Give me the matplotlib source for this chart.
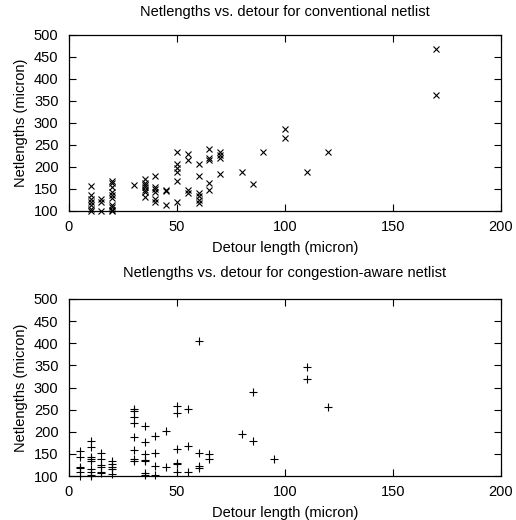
import matplotlib
matplotlib.use("Agg")
import matplotlib.pyplot as plt

plt.rcParams['font.family'] = ['Liberation Sans', 'DejaVu Sans']

# conventional netlist: detour length vs netlength
conv_x = [10, 10, 10, 10, 10, 10, 10,
          15, 15, 15,
          20, 20, 20, 20, 20, 20, 20, 20, 20, 20,
          30,
          35, 35, 35, 35, 35, 35, 35,
          40, 40, 40, 40, 40, 40,
          45, 45, 45,
          50, 50, 50, 50, 50, 50,
          55, 55, 55, 55,
          60, 60, 60, 60, 60, 60,
          65, 65, 65, 65, 65,
          70, 70, 70, 70,
          80, 85, 90, 100, 100, 110, 120, 170, 170]
conv_y = [157, 135, 127, 120, 112, 105, 100,
          126, 120, 100,
          167, 162, 155, 143, 136, 128, 113, 108, 102, 100,
          158,
          172, 164, 158, 153, 147, 142, 132,
          180, 155, 149, 143, 126, 120,
          148, 145, 113,
          233, 206, 198, 189, 168, 120,
          228, 215, 147, 141,
          206, 180, 141, 133, 124, 117,
          240, 221, 215, 162, 147,
          233, 226, 221, 183,
          187, 160, 233, 285, 266, 189, 234, 468, 364]

# congestion-aware netlist
cong_x = [5, 5, 5, 5, 5, 5,
          10, 10, 10, 10, 10, 10, 10, 10, 10,
          15, 15, 15, 15, 15, 15,
          20, 20, 20, 20, 20,
          30, 30, 30, 30, 30, 30, 30, 30,
          35, 35, 35, 35, 35, 35, 35,
          40, 40, 40, 40,
          45, 45,
          50, 50, 50, 50, 50, 50,
          55, 55, 55,
          60, 60, 60, 60,
          65, 65,
          80, 85, 85, 95, 110, 110, 120]
cong_y = [156, 142, 121, 118, 108, 100,
          179, 165, 142, 139, 135, 116, 108, 103, 100,
          152, 139, 124, 120, 110, 106,
          133, 127, 121, 116, 105,
          252, 246, 233, 220, 189, 159, 139, 135,
          214, 177, 150, 136, 135, 107, 103,
          190, 152, 122, 103,
          202, 120,
          259, 243, 161, 130, 127, 108,
          251, 167, 110,
          406, 152, 122, 118,
          149, 139,
          195, 289, 178, 139, 346, 320, 255]

xticks = [0, 50, 100, 150, 200]
yticks = [100, 150, 200, 250, 300, 350, 400, 450, 500]

fig = plt.figure(figsize=(5.16, 5.2), dpi=100)
ax1 = fig.add_axes([0.1337, 0.5948, 0.8373, 0.3379])
ax2 = fig.add_axes([0.1337, 0.0846, 0.8373, 0.3404])


def style(ax, title, tpad):
    ax.set_xlim(0, 200)
    ax.set_ylim(100, 500)
    ax.set_xticks(xticks)
    ax.set_yticks(yticks)
    ax.tick_params(direction='in', top=True, right=True, length=5,
                   width=0.8, labelsize=10.5)
    ax.tick_params(axis='y', pad=7.5)
    ax.tick_params(axis='x', pad=6.5)
    for s in ax.spines.values():
        s.set_linewidth(0.9)
    ax.set_title(title, fontsize=10.5, pad=tpad)
    ax.set_xlabel('Detour length (micron)', fontsize=10.5, labelpad=5)
    ax.set_ylabel('Netlengths (micron)', fontsize=10.5, labelpad=4)


ax1.plot(conv_x, conv_y, linestyle='none', marker='x', color='black',
         markersize=5, markeredgewidth=0.8, clip_on=False)
style(ax1, 'Netlengths vs. detour for conventional netlist', 13.5)

ax2.plot(cong_x, cong_y, linestyle='none', marker='+', color='black',
         markersize=6, markeredgewidth=0.8, clip_on=False)
style(ax2, 'Netlengths vs. detour for congestion-aware netlist', 15.5)

fig.savefig('out.png', dpi=100)
